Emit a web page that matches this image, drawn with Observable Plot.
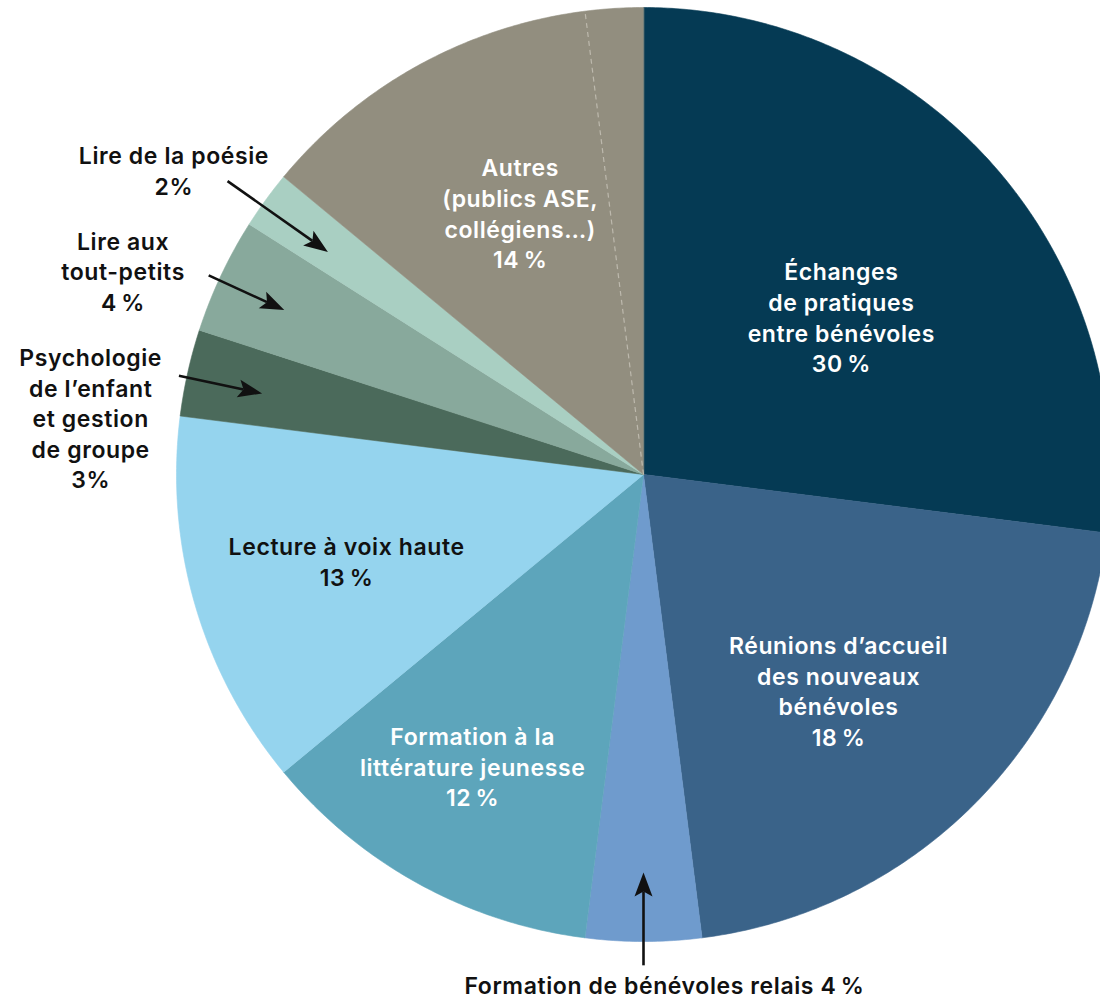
<!DOCTYPE html>
<html>
<head>
<meta charset="utf-8">
<script src="https://cdn.jsdelivr.net/npm/d3@7"></script>
<script src="https://cdn.jsdelivr.net/npm/@observablehq/plot@0.6"></script>
<style>
  html, body { margin: 0; padding: 0; background: #fff; overflow: hidden; }
  #chart svg { overflow: hidden; display: block; }
  #chart svg text { letter-spacing: 0.6px; }
</style>
</head>
<body>
<div id="chart"></div>
<script>
// ---- Data ----
const categories = [
  "Échanges de pratiques entre bénévoles",
  "Réunions d’accueil des nouveaux bénévoles",
  "Formation de bénévoles relais",
  "Formation à la littérature jeunesse",
  "Lecture à voix haute",
  "Psychologie de l’enfant et gestion de groupe",
  "Lire aux tout-petits",
  "Lire de la poésie",
  "Autres (publics ASE, collégiens…)"
];
// slice sizes as drawn (share of the circle, %)
const values = [27, 21, 4, 12, 13, 3, 4, 2, 14];
// labels as printed
const labelTexts = [
  "Échanges\nde pratiques\nentre bénévoles\n30\u202f%",
  "Réunions d’accueil\ndes nouveaux\nbénévoles\n18\u202f%",
  "Formation de bénévoles relais 4\u202f%",
  "Formation à la\nlittérature jeunesse\n12\u202f%",
  "Lecture à voix haute\n13\u202f%",
  "Psychologie\nde l’enfant\net gestion\nde groupe\n3%",
  "Lire aux\ntout-petits\n4\u202f%",
  "Lire de la poésie\n2%",
  "Autres\n(publics ASE,\ncollégiens…)\n14\u202f%"
];
// the "Autres" slice is subdivided (%)
const autresSub = [12, 2];

// ---- Styles / layout (not data) ----
const colors = ["#053a54", "#3a6389", "#6f9bcd", "#5da5bb", "#95d4ee", "#4b6a5b", "#88a99c", "#a9cfc2", "#928e7f"];
const textColors = ["#fff", "#fff", "#111", "#fff", "#111", "#111", "#111", "#111", "#fff"];
// label placement: inside -> radius (and angle offset) from mid-angle; outside -> polar position + arrow radii
const labelLayout = [
  {r: 0.542, da: 2.8},
  {r: 0.623, da: 2.9},
  {outside: true, angle: 177.65, r: 1.093, tail: 1.051, tip: 0.852},
  {r: 0.723, da: 1.6},
  {r: 0.662, da: 0},
  {outside: true, angle: 275.9, r: 1.19, tail: 1.017, tip: 0.835, ada: -0.6},
  {outside: true, angle: 291.4, r: 1.197, tail: 1.024, tip: 0.846, ada: -0.6},
  {outside: true, angle: 303.0, r: 1.199, tail: 1.09, tip: 0.827, ada: -0.8},
  {r: 0.62, da: 0}
];

const R = 467, CX = 643, CY = 474, W = 1100, H = 1001;
const total = d3.sum(values);
const rad = (deg) => deg * Math.PI / 180;
const pt = (deg, r) => [r * Math.sin(rad(deg)), r * Math.cos(rad(deg))];

// slices
let cum = 0;
const slices = categories.map((name, i) => {
  const a0 = cum / total * 360;
  cum += values[i];
  const a1 = cum / total * 360;
  return {name, a0, a1, mid: (a0 + a1) / 2, i};
});

const polyRows = [];
for (const s of slices) {
  polyRows.push({name: s.name, x: 0, y: 0});
  const n = Math.max(2, Math.ceil((s.a1 - s.a0) / 0.5));
  for (let k = 0; k <= n; k++) {
    const a = s.a0 + (s.a1 - s.a0) * k / n;
    const [x, y] = pt(a, 1);
    polyRows.push({name: s.name, x, y});
  }
}

// dashed subdivision of Autres
const autresSlice = slices[slices.length - 1];
const subAngle = autresSlice.a0 + autresSub[0] / total * 360;
const [dx, dy] = pt(subAngle, 1);
const dashRows = [{x1: 0, y1: 0, x2: dx, y2: dy}];

// labels
const labelRows = slices.map((s) => {
  const L = labelLayout[s.i];
  const [x, y] = L.outside ? pt(L.angle, L.r) : pt(s.mid + (L.da || 0), L.r);
  return {x, y, text: labelTexts[s.i], fill: textColors[s.i]};
});

// arrows
const shaftRows = [];
const headRows = [];
const headLen = 24 / R, headHalf = 9 / R, notch = 5 / R;
slices.forEach((s) => {
  const L = labelLayout[s.i];
  if (!L.outside) return;
  const ang = s.mid + (L.ada || 0);
  const [tx, ty] = pt(ang, L.tail);
  const [hx, hy] = pt(ang, L.tip);
  const len = Math.hypot(hx - tx, hy - ty);
  const ux = (hx - tx) / len, uy = (hy - ty) / len;
  const px = -uy, py = ux;
  const bx = hx - ux * headLen, by = hy - uy * headLen;
  shaftRows.push({x1: tx, y1: ty, x2: bx + ux * notch, y2: by + uy * notch});
  const id = s.name;
  headRows.push({id, x: hx, y: hy});
  headRows.push({id, x: bx + px * headHalf, y: by + py * headHalf});
  headRows.push({id, x: bx + ux * notch, y: by + uy * notch});
  headRows.push({id, x: bx - px * headHalf, y: by - py * headHalf});
});

const plot = Plot.plot({
  width: W,
  height: H,
  margin: 0,
  style: {fontFamily: "Inter, 'Noto Sans', sans-serif", background: "#fff"},
  x: {domain: [-1, 1], range: [CX - R, CX + R], axis: null},
  y: {domain: [-1, 1], range: [CY + R, CY - R], axis: null},
  color: {domain: categories, range: colors},
  marks: [
    Plot.line(polyRows, {x: "x", y: "y", z: "name", fill: "name", stroke: "name", strokeWidth: 0.6, curve: "linear-closed"}),
    Plot.link(dashRows, {x1: "x1", y1: "y1", x2: "x2", y2: "y2", stroke: "#bdb9ad", strokeWidth: 1.2, strokeDasharray: "5,4"}),
    Plot.link(shaftRows, {x1: "x1", y1: "y1", x2: "x2", y2: "y2", stroke: "#111", strokeWidth: 2.6}),
    Plot.line(headRows, {x: "x", y: "y", z: "id", fill: "#111", stroke: "none", curve: "linear-closed"}),
    Plot.text(labelRows, {x: "x", y: "y", text: "text", fill: "fill", fontSize: 23, fontWeight: 600, lineHeight: 1.33, textAnchor: "middle"})
  ]
});
document.getElementById("chart").appendChild(plot);
</script>
</body>
</html>
